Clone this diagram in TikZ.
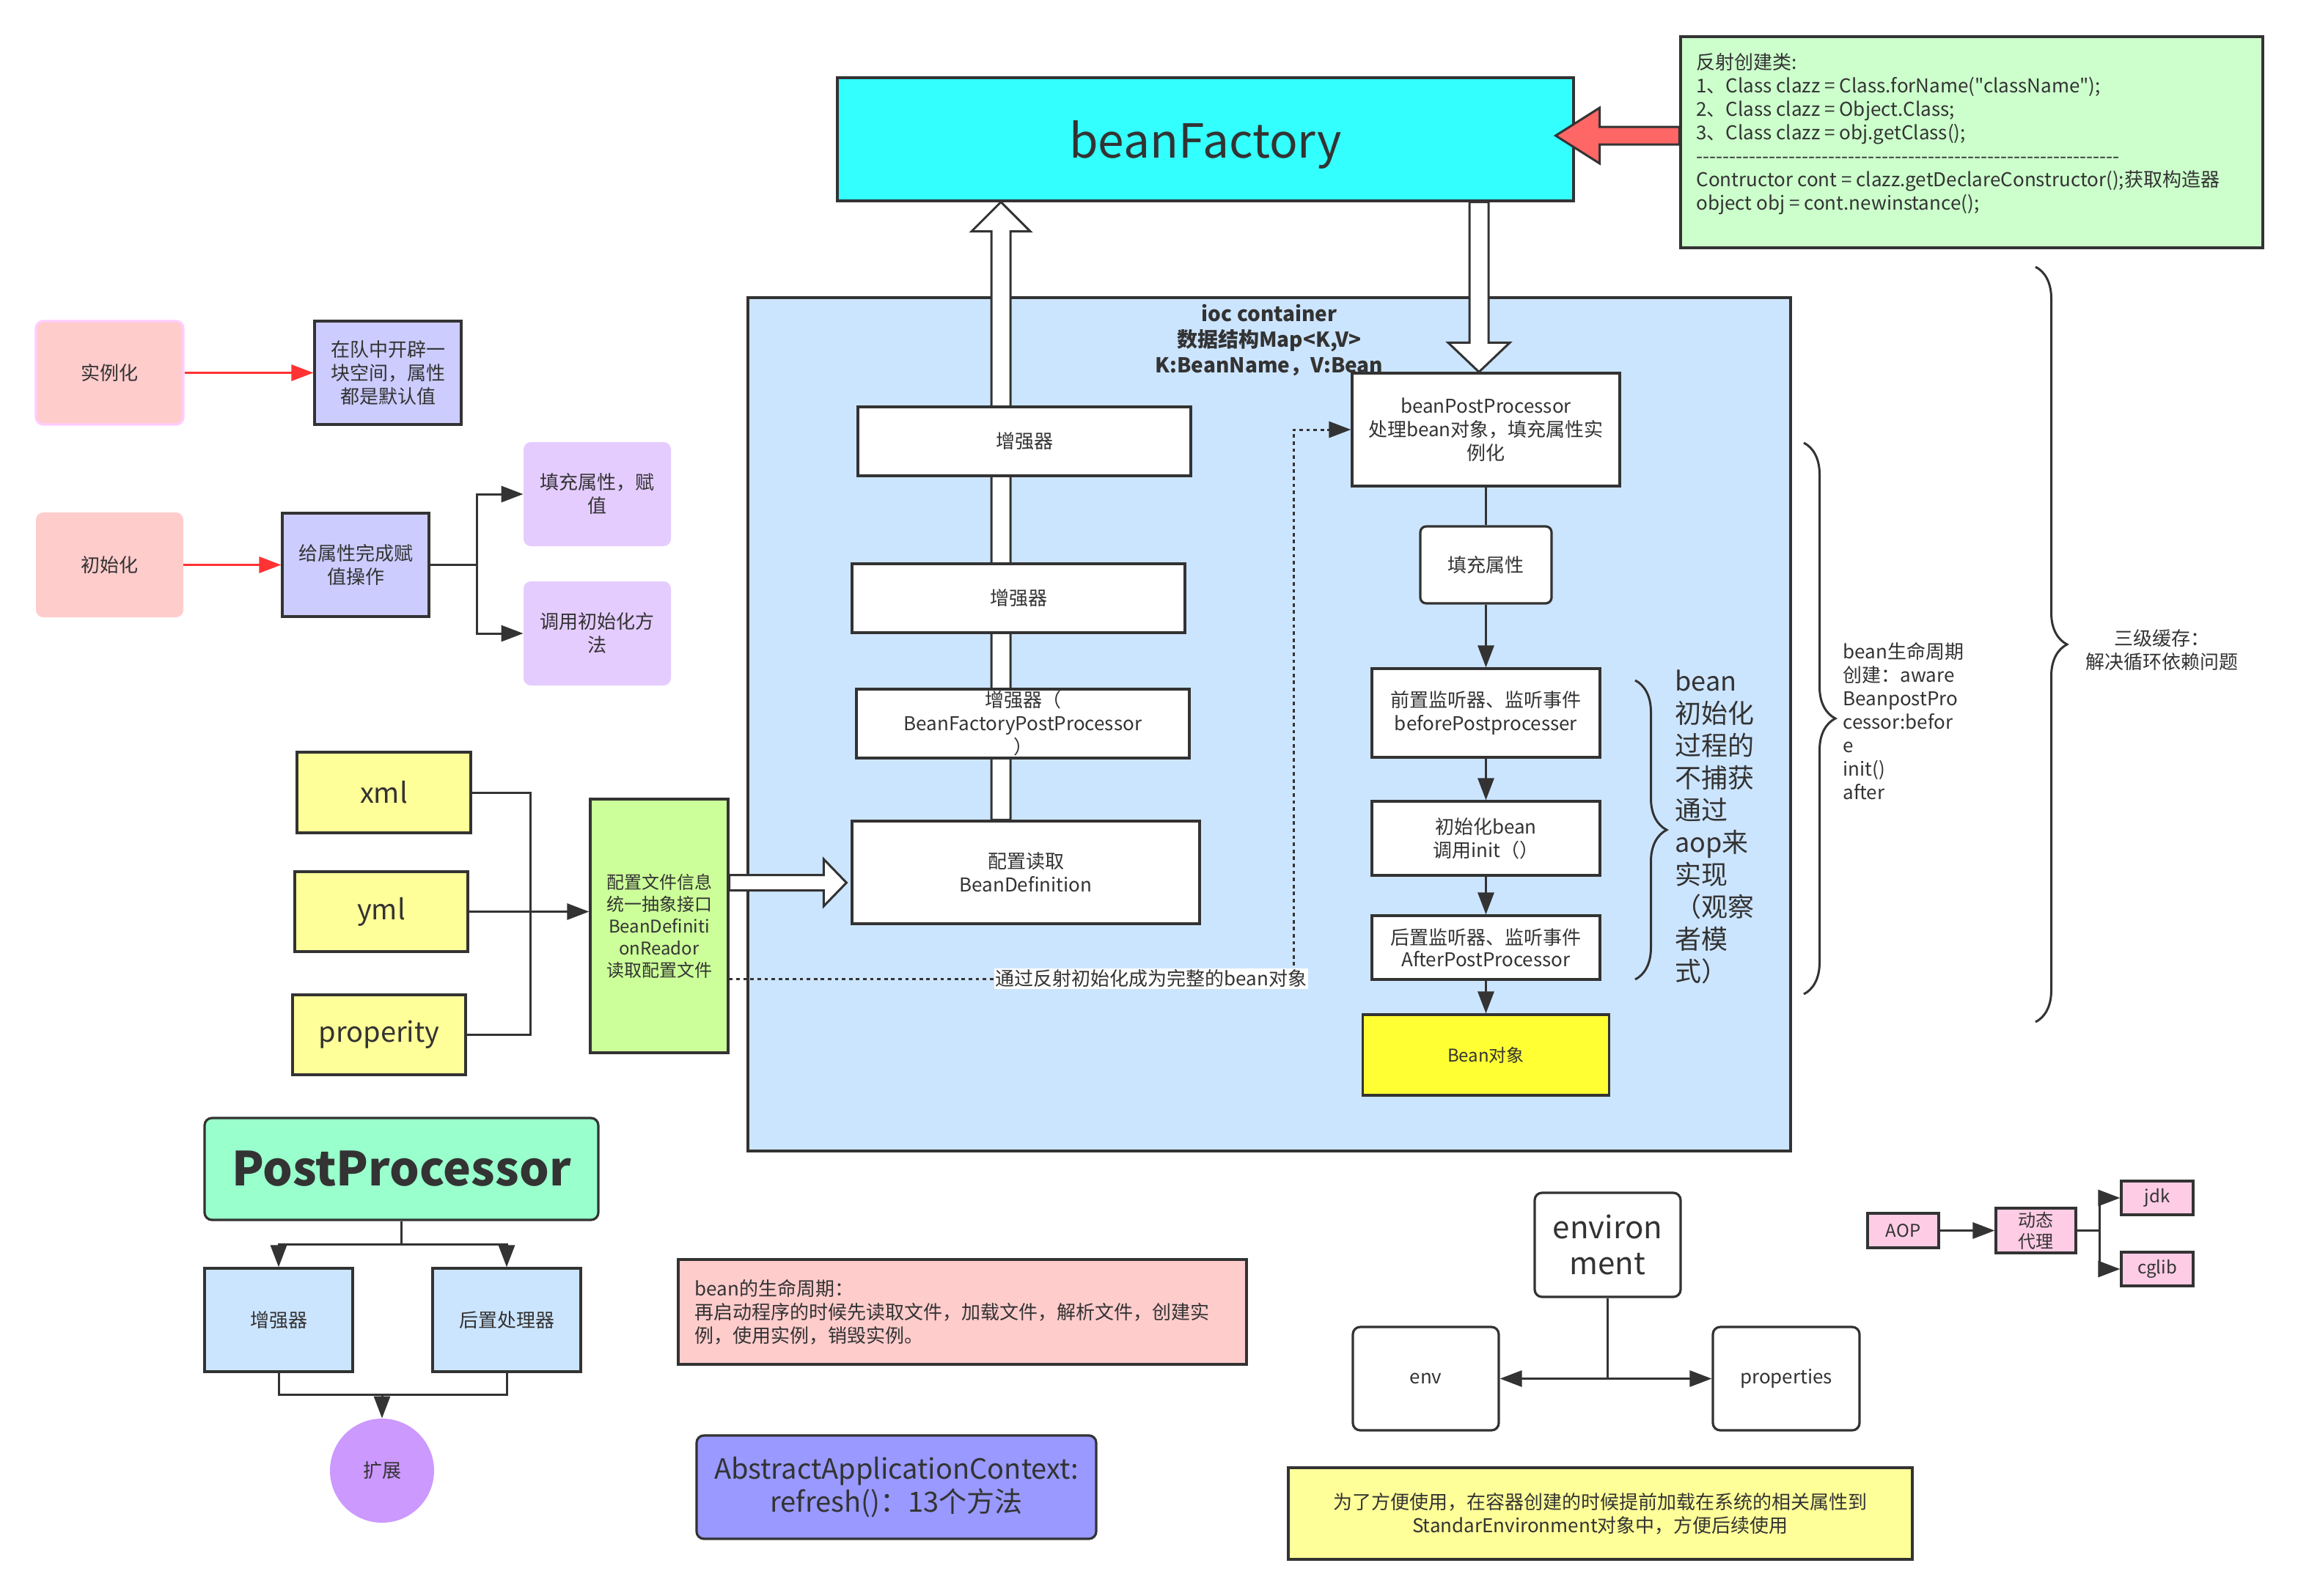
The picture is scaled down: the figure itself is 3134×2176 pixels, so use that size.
\documentclass[tikz,border=0pt]{standalone}
\usepackage{fontspec}
\setmainfont[Ligatures=TeXOff]{Noto Sans CJK SC}
\usetikzlibrary{arrows.meta,calc,decorations.pathreplacing}
\definecolor{dk}{HTML}{333333}
\definecolor{cyanF}{HTML}{33FFFF}
\definecolor{noteG}{HTML}{CCFFCC}
\definecolor{redF}{HTML}{FF6666}
\definecolor{iocF}{HTML}{CCE5FF}
\definecolor{rdrF}{HTML}{CCFF99}
\definecolor{yelF}{HTML}{FFFF99}
\definecolor{beanY}{HTML}{FFFF33}
\definecolor{pinkF}{HTML}{FFCCCC}
\definecolor{pinkB}{HTML}{FFCCFF}
\definecolor{lavF}{HTML}{CCCCFF}
\definecolor{purF}{HTML}{E5CCFF}
\definecolor{ppF}{HTML}{99FFCC}
\definecolor{circF}{HTML}{CC99FF}
\definecolor{aacF}{HTML}{9999FF}
\definecolor{aopF}{HTML}{FFCCE5}
\definecolor{redL}{HTML}{FF3333}
\pgfdeclarelayer{bg}
\pgfdeclarelayer{mid}
\pgfsetlayers{bg,mid,main}
\tikzset{
  every node/.style={text=dk, inner sep=0pt, align=center},
  f13/.style={font=\fontsize{13}{16}\selectfont},
  f12/.style={font=\fontsize{12}{15}\selectfont},
  box/.style={draw=dk, line width=1.6pt, rectangle, f13},
  wbox/.style={box, fill=white},
  softbox/.style={rectangle, rounded corners=5pt, f13},
  ln/.style={draw=dk, line width=1.5pt},
  arr/.style={ln, -{Triangle[length=15pt,width=11pt]}},
  redarr/.style={draw=redL, line width=1.5pt, -{Triangle[length=15pt,width=11pt]}},
  hollow/.style={draw=dk, line width=1.5pt, fill=white},
  brc/.style={draw=dk, line width=1.5pt, decorate, decoration={brace, amplitude=21.5pt}},
  dotc/.style={draw=dk, line width=1.5pt, dash pattern=on 2.4pt off 2.4pt, -{Triangle[length=15pt,width=11pt]}}
}
\begin{document}
\begin{tikzpicture}[x=0.5pt,y=-0.5pt]
\useasboundingbox (0,0) rectangle (3134,2176);

% ---------- ioc container ----------
\begin{pgfonlayer}{bg}
\fill[white] (0,0) rectangle (3134,2176);
\node[draw=dk, line width=2pt, fill=iocF, minimum width=711pt, minimum height=582pt] (ioc) at (1731,988) {};
\end{pgfonlayer}
\node[font=\bfseries\fontsize{14}{17.5}\selectfont] (ioct) at (1731,464) {ioc container\\数据结构Map<K,V>\\K:BeanName，V:Bean};

% ---------- top ----------
\node[box, fill=cyanF, minimum width=502pt, minimum height=84pt, text depth=0pt, font=\fontsize{32}{38}\selectfont] (bf) at (1644,190) {beanFactory};
\node[box, fill=noteG, minimum width=397pt, minimum height=144pt] (note) at (2689,194) {};
\node[f13, anchor=west, align=left] (notetxt) at (2313,183) {反射创建类:\\1、Class clazz = Class.forName("className");\\2、Class clazz = Object.Class;\\3、Class clazz = obj.getClass();\\----------------------------------------------------------------\\Contructor cont = clazz.getDeclareConstructor();获取构造器\\object obj = cont.newinstance();};

% ---------- left column inside container ----------
\node[wbox, minimum width=227pt, minimum height=47pt] (enh1) at (1397,602) {增强器};
\node[wbox, minimum width=227pt, minimum height=47pt] (enh2) at (1389,816) {增强器};
\node[wbox, minimum width=227pt, minimum height=47pt] (enh3) at (1395,987) {增强器（\\BeanFactoryPostProcessor\\）};
\node[wbox, minimum width=237pt, minimum height=70pt] (cfg) at (1399,1190) {配置读取\\BeanDefinition};

% ---------- right column inside container ----------
\node[wbox, minimum width=182.5pt, minimum height=77pt] (bpp) at (2026.5,586) {beanPostProcessor\\处理bean对象，填充属性实\\例化};
\node[wbox, rounded corners=4pt, minimum width=89.5pt, minimum height=52.5pt] (fillp) at (2026.5,770.5) {填充属性};
\node[wbox, minimum width=155.5pt, minimum height=60.5pt] (pre) at (2026.5,972.5) {前置监听器、监听事件\\beforePostprocesser};
\node[wbox, minimum width=155.5pt, minimum height=50.5pt] (initb) at (2026.5,1143.5) {初始化bean\\调用init（）};
\node[wbox, minimum width=155.5pt, minimum height=43.5pt, font=\fontsize{13}{15}\selectfont] (post) at (2026.5,1292.5) {后置监听器、监听事件\\AfterPostProcessor};
\node[box, fill=beanY, minimum width=168pt, minimum height=55pt, f12] (beanobj) at (2026.5,1439) {Bean对象};

\draw[ln] (bpp.south) -- (fillp.north);
\draw[arr] (fillp.south) -- (pre.north);
\draw[arr] (pre.south) -- (initb.north);
\draw[arr] (initb.south) -- (post.north);
\draw[arr] (post.south) -- (beanobj.north);

% braces and their texts
\draw[brc] (2230,928) -- (2230,1336);
\node[anchor=west, align=left, font=\fontsize{18}{22}\selectfont] (initnote) at (2284,1128) {bean\\初始化\\过程的\\不捕获\\通过\\aop来\\实现\\（观察\\者模\\式）};
\draw[brc] (2460,604) -- (2460,1356);
\node[f13, anchor=west, align=left] (lifenote) at (2513,984) {bean生命周期\\创建：aware\\BeanpostPro\\cessor:befor\\e\\init()\\after};
\draw[brc] (2776,364) -- (2776,1394);
\node[f13] (cachenote) at (2948,887) {三级缓存：\\解决循环依赖问题};

% ---------- config sources ----------
\node[box, fill=yelF, minimum width=118.5pt, minimum height=55pt, font=\fontsize{19}{22}\selectfont] (xml) at (523.5,1081) {xml};
\node[box, fill=yelF, minimum width=118pt, minimum height=54.5pt, font=\fontsize{19}{22}\selectfont] (yml) at (520,1243.5) {yml};
\node[box, fill=yelF, minimum width=118pt, minimum height=54.5pt, font=\fontsize{19}{22}\selectfont] (prop) at (517,1411.5) {properity};
\node[box, fill=rdrF, minimum width=94pt, minimum height=173pt, f12] (reader) at (899,1263) {配置文件信息\\统一抽象接口\\BeanDefiniti\\onReador\\读取配置文件};
\coordinate (xj) at (723,1242);
\draw[ln] (xml.east) -| (xj);
\draw[ln] (prop.east) -| (xj);
\draw[arr] (yml.east) -- (reader.west |- yml.east);

% ---------- hollow arrows ----------
\coordinate (ux) at (1365,0);
\coordinate (dx) at (2017,0);
\coordinate (hy) at (0,1204);
\begin{pgfonlayer}{mid}
\draw[hollow] ($(ux|-cfg.north)+(-13,0)$) -- ($(ux|-bf.south)+(-13,40)$) -- ($(ux|-bf.south)+(-40,40)$) -- (ux|-bf.south) -- ($(ux|-bf.south)+(40,40)$) -- ($(ux|-bf.south)+(13,40)$) -- ($(ux|-cfg.north)+(13,0)$) -- cycle;
\draw[hollow] ($(dx|-bf.south)+(-13,0)$) -- ($(dx|-bpp.north)+(-13,-40)$) -- ($(dx|-bpp.north)+(-42,-40)$) -- (dx|-bpp.north) -- ($(dx|-bpp.north)+(42,-40)$) -- ($(dx|-bpp.north)+(13,-40)$) -- ($(dx|-bf.south)+(13,0)$) -- cycle;
\draw[hollow] ($(reader.east|-hy)+(0,-10.5)$) -- ($(cfg.west|-hy)+(-37,-10.5)$) -- ($(cfg.west|-hy)+(-37,-32)$) -- ($(cfg.west|-hy)+(-6,0)$) -- ($(cfg.west|-hy)+(-37,32)$) -- ($(cfg.west|-hy)+(-37,10.5)$) -- ($(reader.east|-hy)+(0,10.5)$) -- cycle;
\end{pgfonlayer}

% red arrow
\coordinate (ry) at (0,185);
\draw[line width=1.5pt, draw=dk, fill=redF] ($(note.west|-ry)+(0,-12)$) -- ($(bf.east|-ry)+(34,-12)$) -- ($(bf.east|-ry)+(34,-38)$) -- ($(bf.east|-ry)+(-26,0)$) -- ($(bf.east|-ry)+(34,38)$) -- ($(bf.east|-ry)+(34,12)$) -- ($(note.west|-ry)+(0,12)$) -- cycle;

% dotted connector
\coordinate (dcorner) at (1764,1335);
\draw[dotc] (reader.east|-dcorner) -- node[pos=0.748, fill=white, f13, inner sep=1pt] (dlab) {通过反射初始化成为完整的bean对象} (dcorner) |- (bpp.west);

% ---------- top-left ----------
\node[softbox, fill=pinkF, draw=pinkB, line width=1.6pt, minimum width=100.5pt, minimum height=70.5pt] (inst) at (149.5,508.5) {实例化};
\node[box, fill=lavF, minimum width=100pt, minimum height=70.5pt] (inst2) at (529,508.5) {在队中开辟一\\块空间，属性\\都是默认值};
\node[softbox, fill=pinkF, minimum width=100.5pt, minimum height=71.5pt] (init) at (149.5,770.5) {初始化};
\node[box, fill=lavF, minimum width=100pt, minimum height=70.5pt] (give) at (485,770.5) {给属性完成赋\\值操作};
\node[softbox, fill=purF, minimum width=100.5pt, minimum height=71pt] (fill) at (814.5,674) {填充属性，赋\\值};
\node[softbox, fill=purF, minimum width=100.5pt, minimum height=71pt] (call) at (814.5,864) {调用初始化方\\法};
\draw[redarr] (inst.east) -- (inst2.west);
\draw[redarr] (init.east) -- (give.west);
\draw[arr] (give.east) -- ++(64,0) |- (fill.west);
\draw[arr] (give.east) -- ++(64,0) |- (call.west);

% ---------- PostProcessor ----------
\node[box, rounded corners=5pt, fill=ppF, minimum width=268.5pt, minimum height=69.5pt, font=\bfseries\fontsize{32}{38}\selectfont] (pp) at (547.5,1594.5) {PostProcessor};
\node[box, fill=iocF, minimum width=101pt, minimum height=70.5pt] (enh) at (380,1800.5) {增强器};
\node[box, fill=iocF, minimum width=101pt, minimum height=70.5pt] (postp) at (691,1800.5) {后置处理器};
\node[circle, fill=circF, minimum size=71pt, f13] (ext) at (521,2006) {扩展};
\draw[arr] (pp.south) -- ++(0,32) -| (enh.north);
\draw[arr] (pp.south) -- ++(0,32) -| (postp.north);
\coordinate (pj) at (521,1902);
\draw[ln] (enh.south) |- (pj) -| (postp.south);
\draw[arr] (pj) -- (ext.north);

% ---------- bottom middle ----------
\node[box, fill=pinkF, minimum width=387.5pt, minimum height=71.5pt, text width=365pt, align=left] (life) at (1312.5,1789.5) {bean的生命周期：\\再启动程序的时候先读取文件，加载文件，解析文件，创建实\\例，使用实例，销毁实例。};
\node[box, rounded corners=5pt, fill=aacF, minimum width=272.5pt, minimum height=70.5pt, font=\fontsize{19}{22.5}\selectfont] (aac) at (1222.5,2028.5) {AbstractApplicationContext:\\refresh()：13个方法};

% ---------- environment ----------
\node[wbox, rounded corners=5pt, minimum width=99.5pt, minimum height=71pt, font=\fontsize{21}{24.5}\selectfont] (envm) at (2192.5,1698) {environ\\ment};
\node[wbox, rounded corners=5pt, minimum width=99.5pt, minimum height=70.5pt] (env) at (1944.5,1880.5) {env};
\node[wbox, rounded corners=5pt, minimum width=100pt, minimum height=70.5pt] (props) at (2436,1880.5) {properties};
\coordinate (ej) at (envm.south |- env.east);
\draw[ln] (envm.south) -- (ej);
\draw[arr] (ej) -- (env.east);
\draw[arr] (ej) -- (props.west);
\node[box, fill=yelF, minimum width=425.5pt, minimum height=62.5pt] (ynote) at (2182.5,2064.5) {为了方便使用，在容器创建的时候提前加载在系统的相关属性到\\StandarEnvironment对象中，方便后续使用};

% ---------- AOP ----------
\node[box, fill=aopF, minimum width=48.5pt, minimum height=23.5pt, f12] (aop) at (2595.5,1678.5) {AOP};
\node[box, fill=aopF, minimum width=54.5pt, minimum height=30.5pt, font=\fontsize{12}{14.5}\selectfont] (dyn) at (2776.5,1678.5) {动态\\代理};
\node[box, fill=aopF, minimum width=49pt, minimum height=23pt, f12] (jdk) at (2942,1634) {jdk};
\node[box, fill=aopF, minimum width=49pt, minimum height=23pt, f12] (cglib) at (2942,1731) {cglib};
\draw[arr] (aop.east) -- (dyn.west);
\draw[arr] (dyn.east) -- ++(31,0) |- (jdk.west);
\draw[arr] (dyn.east) -- ++(31,0) |- (cglib.west);
\end{tikzpicture}
\end{document}
